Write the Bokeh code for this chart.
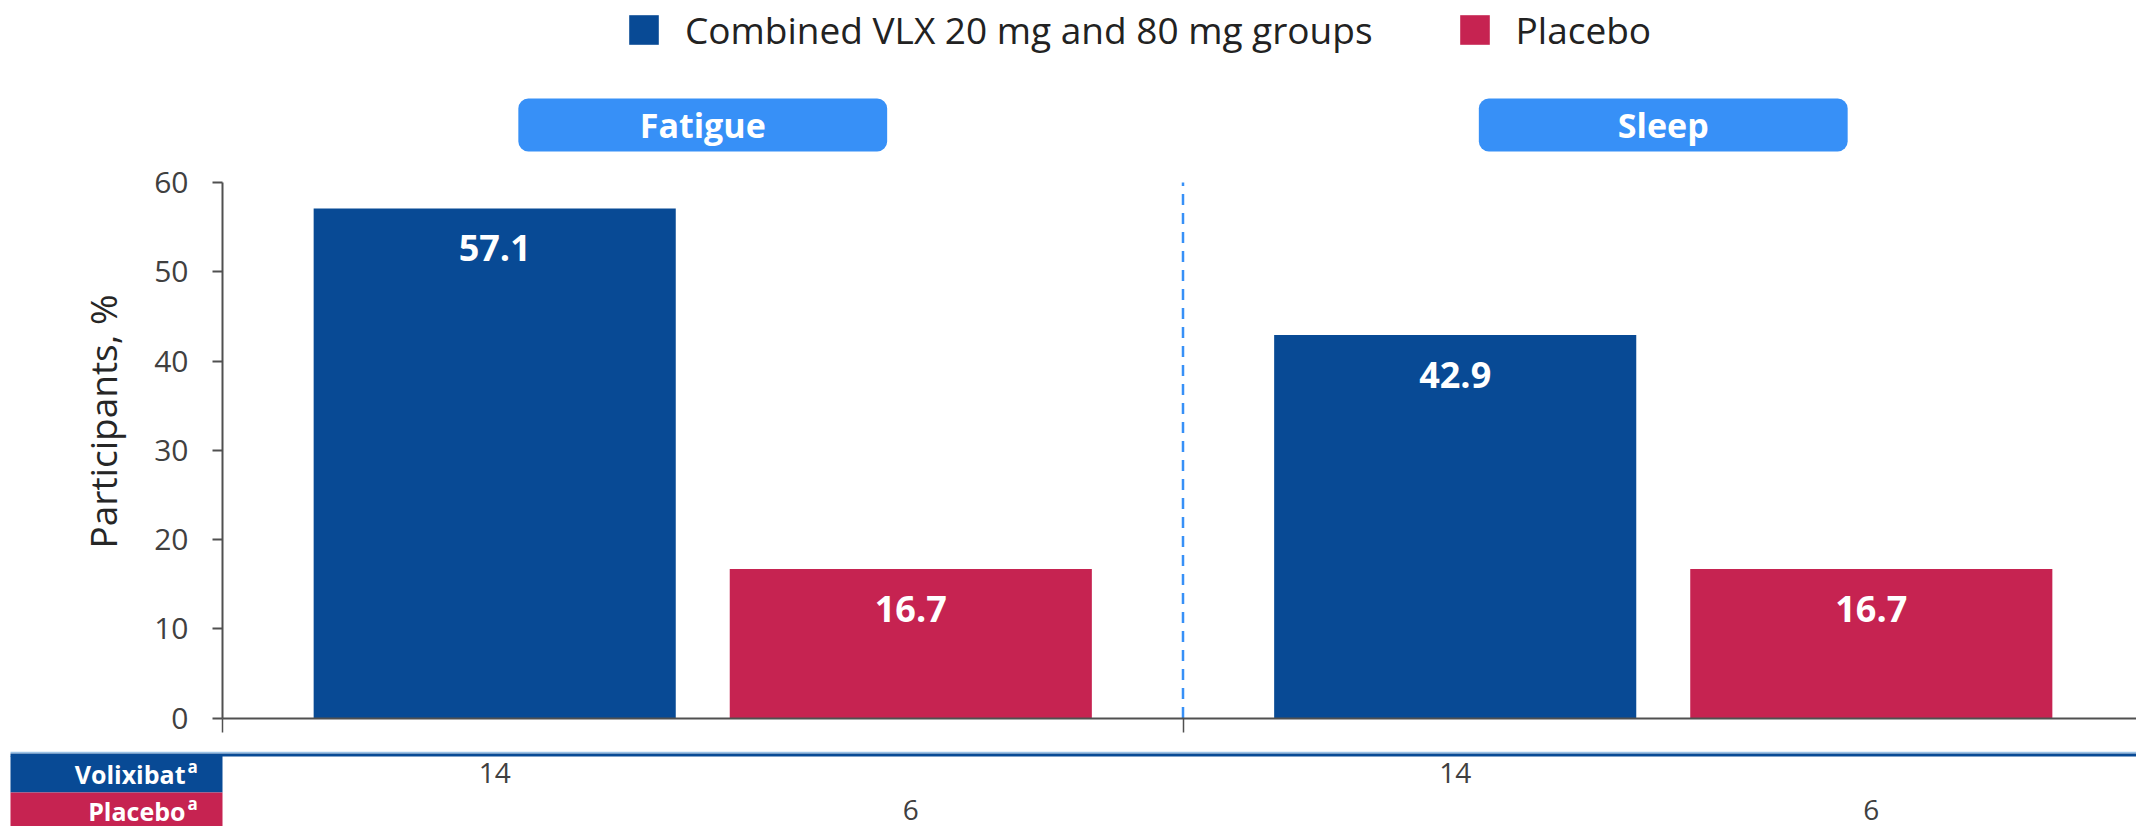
import math

from bokeh.plotting import figure
from bokeh.models import (Range1d, LinearAxis, FixedTicker, BoxAnnotation,
                          Legend, LegendItem, ColumnDataSource)
from bokeh.embed import file_html
from bokeh.resources import INLINE
from bokeh.core.properties import value

# ---- data -------------------------------------------------------------
domains = ["Fatigue", "Sleep"]
vlx_pct = [57.1, 42.9]
pbo_pct = [16.7, 16.7]
vlx_n = [14, 14]
pbo_n = [6, 6]
series_labels = ["Combined VLX 20 mg and 80 mg groups", "Placebo"]
row_labels = ["Volixibat", "Placebo"]
y_title = "Participants, %"
y_ticks = [0, 10, 20, 30, 40, 50, 60]

# ---- style ------------------------------------------------------------
BLUE = "#084A95"
RED = "#C62351"
SKY = "#3790F7"
GREY = "#404040"
AXIS = "#505050"
FONT = "Open Sans"

W, H = 2136, 826
LEFT = 222            # canvas x of the value axis
Y0 = 717.5            # canvas y of the zero line
PX_PER_UNIT = 8.925   # vertical pixels per percentage point
x_per_px = 1 / 960.5  # one domain slot is 960.5 px wide


def x_at(px):
    """data x for a canvas pixel column"""
    return (px - LEFT) * x_per_px


def y_at(py):
    """data y for a canvas pixel row"""
    return (Y0 - py) / PX_PER_UNIT


centers = [0.5 + i for i in range(len(domains))]
dividers = [i for i in range(1, len(domains))]
offset = 0.2166
bar_w = 0.377
vlx_x = [c - offset for c in centers]
pbo_x = [c + offset for c in centers]

# ---- figure (frame covers the whole canvas) ----------------------------
p = figure(width=W, height=H, x_range=Range1d(x_at(0), x_at(W)),
           y_range=Range1d(y_at(H), y_at(0)),
           output_backend="svg", toolbar_location=None, min_border=0,
           x_axis_type=None, y_axis_type=None)
p.grid.visible = False
p.outline_line_color = None
p.background_fill_color = "white"

yaxis = LinearAxis(ticker=FixedTicker(ticks=y_ticks), bounds=(0, 60), fixed_location=0,
                   major_label_text_font=FONT, major_label_text_font_size="30px",
                   major_label_text_color=GREY, major_label_standoff=24,
                   major_tick_out=10, major_tick_in=0, minor_tick_out=0, minor_tick_in=0,
                   axis_line_color=AXIS, axis_line_width=2,
                   major_tick_line_color=AXIS, major_tick_line_width=2)
p.add_layout(yaxis, "left")

xaxis = LinearAxis(ticker=FixedTicker(ticks=[0] + dividers), bounds=(0, 2), fixed_location=0,
                   major_label_overrides={t: "" for t in [0] + dividers},
                   major_label_text_font_size="1px", major_label_standoff=0,
                   major_tick_out=14, major_tick_in=0, minor_tick_out=0, minor_tick_in=0,
                   axis_line_color=AXIS, axis_line_width=2,
                   major_tick_line_color=AXIS, major_tick_line_width=1.5)
p.add_layout(xaxis, "below")

# value-axis title
p.text(x=[x_at(102)], y=[y_at(421)], text=[y_title], angle=math.pi / 2,
       text_color="#262626", text_font=value(FONT), text_font_size="37px",
       text_align="center", text_baseline="middle")

src_v = ColumnDataSource(dict(x=vlx_x, top=vlx_pct, label=[f"{v:.1f}" for v in vlx_pct]))
src_p = ColumnDataSource(dict(x=pbo_x, top=pbo_pct, label=[f"{v:.1f}" for v in pbo_pct]))

r_v = p.vbar(x="x", top="top", bottom=0, width=bar_w, source=src_v,
             fill_color=BLUE, line_color=None)
r_p = p.vbar(x="x", top="top", bottom=0, width=bar_w, source=src_p,
             fill_color=RED, line_color=None)

for src in (src_v, src_p):
    p.text(x="x", y="top", text="label", source=src, text_color="white",
           text_font=value(FONT), text_font_style="bold", text_font_size="36px",
           text_align="center", text_baseline="middle", y_offset=40)

# dashed separator between the two domains
p.segment(x0=dividers, y0=[0] * len(dividers), x1=dividers, y1=[60] * len(dividers),
          line_color=SKY, line_width=2.5, line_dash="11 8")

# domain headers
half_w = 0.192
for c in centers:
    p.add_layout(BoxAnnotation(left=c - half_w, right=c + half_w,
                               bottom=y_at(151), top=y_at(98),
                               fill_color=SKY, fill_alpha=1, line_color=None,
                               border_radius=10, level="underlay"))
p.text(x=centers, y=[y_at(124.5)] * len(centers), text=domains, text_color="white",
       text_font=value(FONT), text_font_style="bold", text_font_size="34px",
       text_align="center", text_baseline="middle")

legend = Legend(items=[LegendItem(label=series_labels[0], renderers=[r_v]),
                       LegendItem(label=series_labels[1], renderers=[r_p])],
                orientation="horizontal", location=(625, H - 55),
                glyph_width=37, glyph_height=37, label_standoff=23, spacing=83,
                padding=0, margin=0, border_line_color=None, background_fill_alpha=0,
                label_text_font=FONT, label_text_font_size="37px",
                label_text_color="#222222")
p.add_layout(legend, "center")

# ---- participant count table -------------------------------------------
x_box0 = x_at(10)
p.segment(x0=[x_box0], y0=[y_at(752)], x1=[x_at(W)], y1=[y_at(752)],
          line_color="#9DC3E6", line_width=1.5)
p.segment(x0=[x_box0], y0=[y_at(754.5)], x1=[x_at(W)], y1=[y_at(754.5)],
          line_color=BLUE, line_width=3)

p.quad(left=[x_box0] * 2, right=[0, 0], top=[y_at(755.5), y_at(792)],
       bottom=[y_at(792), y_at(H)], fill_color=[BLUE, RED], line_color=None)

row_y = [773, 810]
p.text(x=[x_at(185)] * 2, y=[y_at(v) for v in row_y], text=row_labels, text_color="white",
       text_font=value(FONT), text_font_style="bold", text_font_size="25px",
       text_align="right", text_baseline="middle")
p.text(x=[x_at(187)] * 2, y=[y_at(v - 7) for v in row_y], text=["a", "a"], text_color="white",
       text_font=value(FONT), text_font_style="bold", text_font_size="17px",
       text_align="left", text_baseline="middle")

p.text(x=vlx_x, y=[y_at(772)] * len(vlx_x), text=[str(n) for n in vlx_n], text_color=GREY,
       text_font=value(FONT), text_font_size="28px",
       text_align="center", text_baseline="middle")
p.text(x=pbo_x, y=[y_at(809)] * len(pbo_x), text=[str(n) for n in pbo_n], text_color=GREY,
       text_font=value(FONT), text_font_size="28px",
       text_align="center", text_baseline="middle")

open("out.html", "w").write(file_html(p, INLINE))
